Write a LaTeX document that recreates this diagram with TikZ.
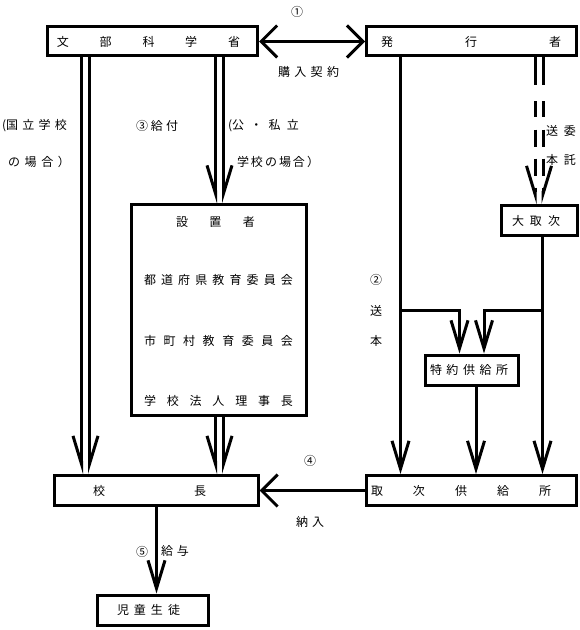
\documentclass[tikz,border=0pt]{standalone}
\usepackage{fontspec}
\newfontfamily\jp{Noto Sans CJK JP}
\usetikzlibrary{arrows.meta}
\begin{document}
\begin{tikzpicture}[x=1bp,y=-1bp,
  every node/.style={font=\jp\fontsize{12bp}{14bp}\selectfont, inner sep=0pt},
  box/.style={draw, line width=3bp, rectangle, inner sep=0pt, outer sep=1.5bp},
  ln/.style={line width=3bp},
  va/.style={ln, -{Straight Barb[length=28bp,width=17bp]}},
  vaw/.style={ln, -{Straight Barb[length=28bp,width=17bp,right]}},
  vae/.style={ln, -{Straight Barb[length=28bp,width=17bp,left]}},
  ha/.style={ln, -{Straight Barb[length=16bp,width=32bp]}},
  hab/.style={ln, {Straight Barb[length=16bp,width=32bp]}-{Straight Barb[length=16bp,width=32bp]}},
  dsh/.style={dash pattern=on 28bp off 16bp on 16bp off 12bp on 17bp off 12bp on 17bp off 12bp on 60bp}
]
\useasboundingbox (0,0) rectangle (580,630);
% boxes
\node[box, minimum height=29bp] (A) at (152.5,41.5)
  {\makebox[210bp]{\hspace{9.5bp}文\hfill{}部\hfill{}科\hfill{}学\hfill{}省\hspace{17.5bp}}};
\node[box, minimum height=29bp] (B) at (471.5,41.5)
  {\makebox[210bp]{\hspace{14.5bp}発\hfill{}行\hfill{}者\hspace{15.5bp}}};
\node[box, minimum width=175bp, minimum height=210bp] (C) at (219,310) {};
\node[box, minimum height=30bp] (D) at (539,220.5)
  {\makebox[76bp]{\hspace{11bp}大\hfill{}取\hfill{}次\hspace{17bp}}};
\node[box, minimum height=30bp] (E) at (471.5,370)
  {\makebox[93bp]{\hspace{5bp}特\hfill{}約\hfill{}供\hfill{}給\hfill{}所\hspace{10bp}}};
\node[box, minimum height=30bp] (F) at (156.5,490.5)
  {\makebox[203bp]{\hspace{38bp}校\hfill{}長\hspace{52bp}}};
\node[box, minimum height=30bp] (G) at (471.5,490.5)
  {\makebox[210bp]{\hspace{4.5bp}取\hfill{}次\hfill{}供\hfill{}給\hfill{}所\hspace{25.5bp}}};
\node[box, minimum height=30bp] (H) at (152.5,610)
  {\makebox[111bp]{\hspace{20bp}児\hfill{}童\hfill{}生\hfill{}徒\hspace{28bp}}};
% texts inside C
\node (c1) at (215.5,221.5) {\makebox[79bp]{設\hfill{}置\hfill{}者}};
\node (c2) at (218.5,280) {\makebox[149bp]{都\hfill{}道\hfill{}府\hfill{}県\hfill{}教\hfill{}育\hfill{}委\hfill{}員\hfill{}会}};
\node (c3) at (218.5,341) {\makebox[149bp]{市\hfill{}町\hfill{}村\hfill{}教\hfill{}育\hfill{}委\hfill{}員\hfill{}会}};
\node (c4) at (218.5,401) {\makebox[149bp]{学\hfill{}校\hfill{}法\hfill{}人\hfill{}理\hfill{}事\hfill{}長}};
% x positions of lines
\coordinate (xa1) at (81.5,0);
\coordinate (xa2) at (89.5,0);
\coordinate (xc1) at (215.5,0);
\coordinate (xc2) at (223.5,0);
\coordinate (xb) at (400.5,0);
\coordinate (xd1) at (535,0);
\coordinate (xd2) at (543,0);
\coordinate (xd) at (542.5,0);
\coordinate (xe) at (476,0);
\coordinate (el) at (459.5,0);
\coordinate (er) at (484,0);
\coordinate (j1) at (400.5,310);
\coordinate (j2) at (542.5,310);
% connectors
\draw[hab] (A.east) -- (B.west);
\draw[vaw] (A.south -| xa1) -- (F.north -| xa1);
\draw[vae] (A.south -| xa2) -- (F.north -| xa2);
\draw[vaw] (A.south -| xc1) -- (C.north -| xc1);
\draw[vae] (A.south -| xc2) -- (C.north -| xc2);
\draw[vaw] (C.south -| xc1) -- (F.north -| xc1);
\draw[vae] (C.south -| xc2) -- (F.north -| xc2);
\draw[vaw, dsh] (B.south -| xd1) -- (D.north -| xd1);
\draw[vae, dsh] (B.south -| xd2) -- (D.north -| xd2);
\draw[va] (B.south -| xb) -- (G.north -| xb);
\draw[va] (D.south -| xd) -- (G.north -| xd);
\draw[va] (j1) -| (E.north -| el);
\draw[va] (j2) -| (E.north -| er);
\draw[va] (E.south -| xe) -- (G.north -| xe);
\draw[ha] (G.west) -- (F.east);
\draw[va] (F.south) -- (H.north -| F.south);
% labels
\node (n1) at (297,12) {①};
\node (t1) at (308.5,72) {\makebox[61bp]{購\hfill{}入\hfill{}契\hfill{}約}};
\node (t2) at (34.5,126) {\makebox[65bp]{(国\hfill{}立\hfill{}学\hfill{}校}};
\node (t3) at (39,162) {\makebox[62bp]{の\hfill{}場\hfill{}合\hfill{}）}};
\node (t4) at (157,126) {\makebox[42bp]{③\hfill{}給\hfill{}付}};
\node (t5) at (263.5,126) {\makebox[71bp]{(公\hfill{}・\hfill{}私\hfill{}立}};
\node (t6) at (278,162) {\makebox[82bp]{学\hfill{}校\hfill{}の\hfill{}場\hfill{}合\hfill{}）}};
\node (t7) at (561,131) {\makebox[30bp]{送\hfill{}委}};
\node (t8) at (561,160) {\makebox[30bp]{本\hfill{}託}};
\node (n2) at (376,280) {②};
\node (t9) at (376,311) {送};
\node (t10) at (376,341) {本};
\node (n4) at (310,461) {④};
\node (t11) at (310,522) {\makebox[28bp]{納\hfill{}入}};
\node (n5) at (142,552) {⑤};
\node (t12) at (175,551) {\makebox[28bp]{給\hfill{}与}};
\end{tikzpicture}
\end{document}
